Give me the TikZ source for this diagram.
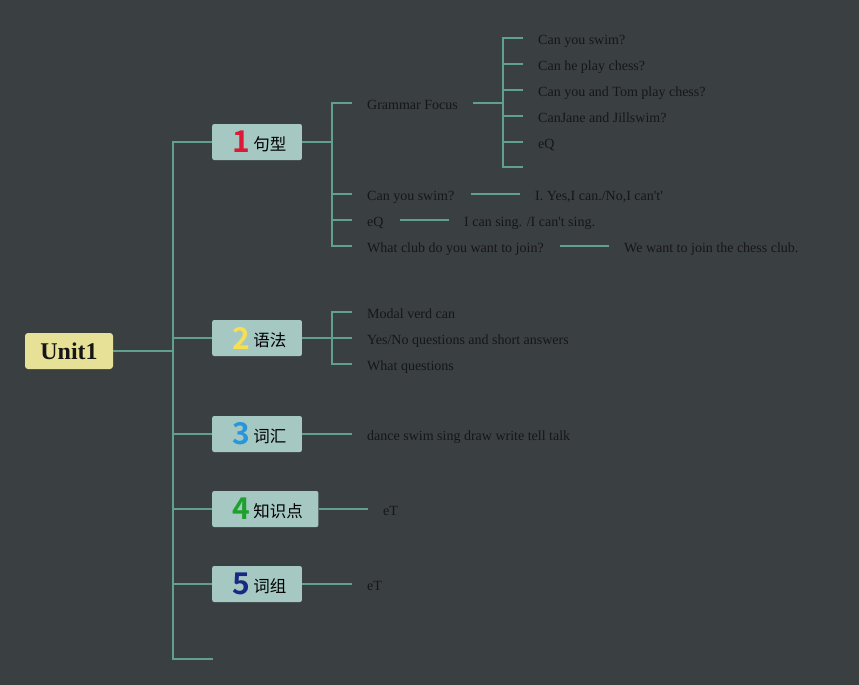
\documentclass[tikz,border=0pt]{standalone}
\usepackage{fontspec}
\setmainfont{Liberation Serif}
\newfontfamily\cjk{Noto Sans CJK SC}
\newfontfamily\numfont{Noto Sans CJK SC Bold}
\usetikzlibrary{calc,positioning}
\definecolor{mapbg}{RGB}{58,63,66}
\definecolor{mapline}{RGB}{96,160,140}
\definecolor{mapbox}{RGB}{165,200,195}
\definecolor{mapunit}{RGB}{230,225,150}
\definecolor{maptext}{RGB}{22,22,22}
\definecolor{numred}{RGB}{220,25,55}
\definecolor{numyellow}{RGB}{248,222,80}
\definecolor{numblue}{RGB}{40,150,220}
\definecolor{numgreen}{RGB}{30,160,45}
\definecolor{numnavy}{RGB}{25,40,130}
\newcommand\topiclabel[3]{\hspace{5pt}{\numfont\fontsize{30}{30}\selectfont\color{#1}#2}\hspace{3pt}\raisebox{2.5pt}{\cjk\fontsize{16.5}{18}\selectfont #3}}
\tikzset{
  unitbox/.style ={rectangle, rounded corners=3pt, fill=mapunit, text=maptext,
                   minimum width=88pt, minimum height=36pt, inner sep=0pt,
                   font=\bfseries\fontsize{24}{26}\selectfont},
  topicbox/.style={rectangle, rounded corners=2pt, fill=mapbox, text=black,
                   minimum height=36pt, inner xsep=15.5pt, inner ysep=0pt, anchor=west},
  leaf/.style    ={anchor=west, inner sep=0pt, text=maptext, text height=13pt, text depth=0pt,
                   font=\fontsize{14}{16}\selectfont},
  branch/.style  ={line width=2pt, mapline},
}
\begin{document}
\begin{tikzpicture}[x=1pt, y=-1pt]
  \path[use as bounding box, fill=mapbg] (0,0) rectangle (859,685);
  % root and topics
  \node[unitbox]  (unit) at (69,351) {Unit1};
  \node[topicbox] (t1) at (212,142) {\topiclabel{numred}{1}{句型}};
  \node[topicbox] (t2) at (212,338) {\topiclabel{numyellow}{2}{语法}};
  \node[topicbox] (t3) at (212,434) {\topiclabel{numblue}{3}{词汇}};
  \node[topicbox] (t4) at (212,509) {\topiclabel{numgreen}{4}{知识点}};
  \node[topicbox] (t5) at (212,584) {\topiclabel{numnavy}{5}{词组}};
  \coordinate (spbot) at (173,659);
  \coordinate (cap)   at (213,659);
  \draw[branch] (unit.east) -- (spbot |- unit.east);
  \draw[branch] (t1.west) -| (spbot) -- (cap);
  \foreach \t in {t2,t3,t4,t5}
    \draw[branch] (spbot |- \t.west) -- (\t.west);
  % 1 sentence patterns
  \coordinate (j1) at (332,142);
  \node[leaf] (gf) at (367,103) {Grammar Focus};
  \node[leaf] (q1) at (367,194) {Can you swim?};
  \node[leaf] (q2) at (367,220) {eQ};
  \node[leaf] (q3) at (367,246) {What club do you want to join?};
  \node[leaf] (a1) at (535,194) {I. Yes,I can./No,I can\textquotesingle t\textquotesingle};
  \node[leaf] (a2) at (464,220) {I can sing. /I can\textquotesingle t sing.};
  \node[leaf] (a3) at (624,246) {We want to join the chess club.};
  \draw[branch] (t1.east) -- (j1);
  \draw[branch] ([xshift=-15pt]gf.west) -| (j1 |- q3.west) -- ([xshift=-15pt]q3.west);
  \foreach \q in {q1,q2}
    \draw[branch] (j1 |- \q.west) -- ([xshift=-15pt]\q.west);
  \foreach \i in {1,2,3}
    \draw[branch] ([xshift=16pt]q\i.east) -- ([xshift=-15pt]a\i.west);
  % grammar focus
  \coordinate (j2) at (503,103);
  \node[leaf] (g1) at (538,38)  {Can you swim?};
  \node[leaf] (g2) at (538,64)  {Can he play chess?};
  \node[leaf] (g3) at (538,90)  {Can you and Tom play chess?};
  \node[leaf] (g4) at (538,116) {CanJane and Jillswim?};
  \node[leaf] (g5) at (538,142) {eQ};
  \coordinate (g6) at (538,167);
  \draw[branch] ([xshift=15pt]gf.east) -- (j2);
  \draw[branch] ([xshift=-15pt]g1.west) -| (j2 |- g6) -- ([xshift=-15pt]g6);
  \foreach \g in {g2,g3,g4,g5}
    \draw[branch] (j2 |- \g.west) -- ([xshift=-15pt]\g.west);
  % 2 grammar
  \coordinate (j3) at (332,338);
  \node[leaf] (m1) at (367,312) {Modal verd can};
  \node[leaf] (m2) at (367,338) {Yes/No questions and short answers};
  \node[leaf] (m3) at (367,364) {What questions};
  \draw[branch] (t2.east) -- (j3);
  \draw[branch] ([xshift=-15pt]m1.west) -| (j3 |- m3.west) -- ([xshift=-15pt]m3.west);
  \draw[branch] (j3) -- ([xshift=-15pt]m2.west);
  % 3 to 5
  \node[leaf] (v1) at (367,434) {dance swim sing draw write tell talk};
  \node[leaf] (k1) at (383,509) {eT};
  \node[leaf] (p1) at (367,584) {eT};
  \draw[branch] (t3.east) -- ([xshift=-15pt]v1.west);
  \draw[branch] (t4.east) -- ([xshift=-15pt]k1.west);
  \draw[branch] (t5.east) -- ([xshift=-15pt]p1.west);
\end{tikzpicture}
\end{document}
